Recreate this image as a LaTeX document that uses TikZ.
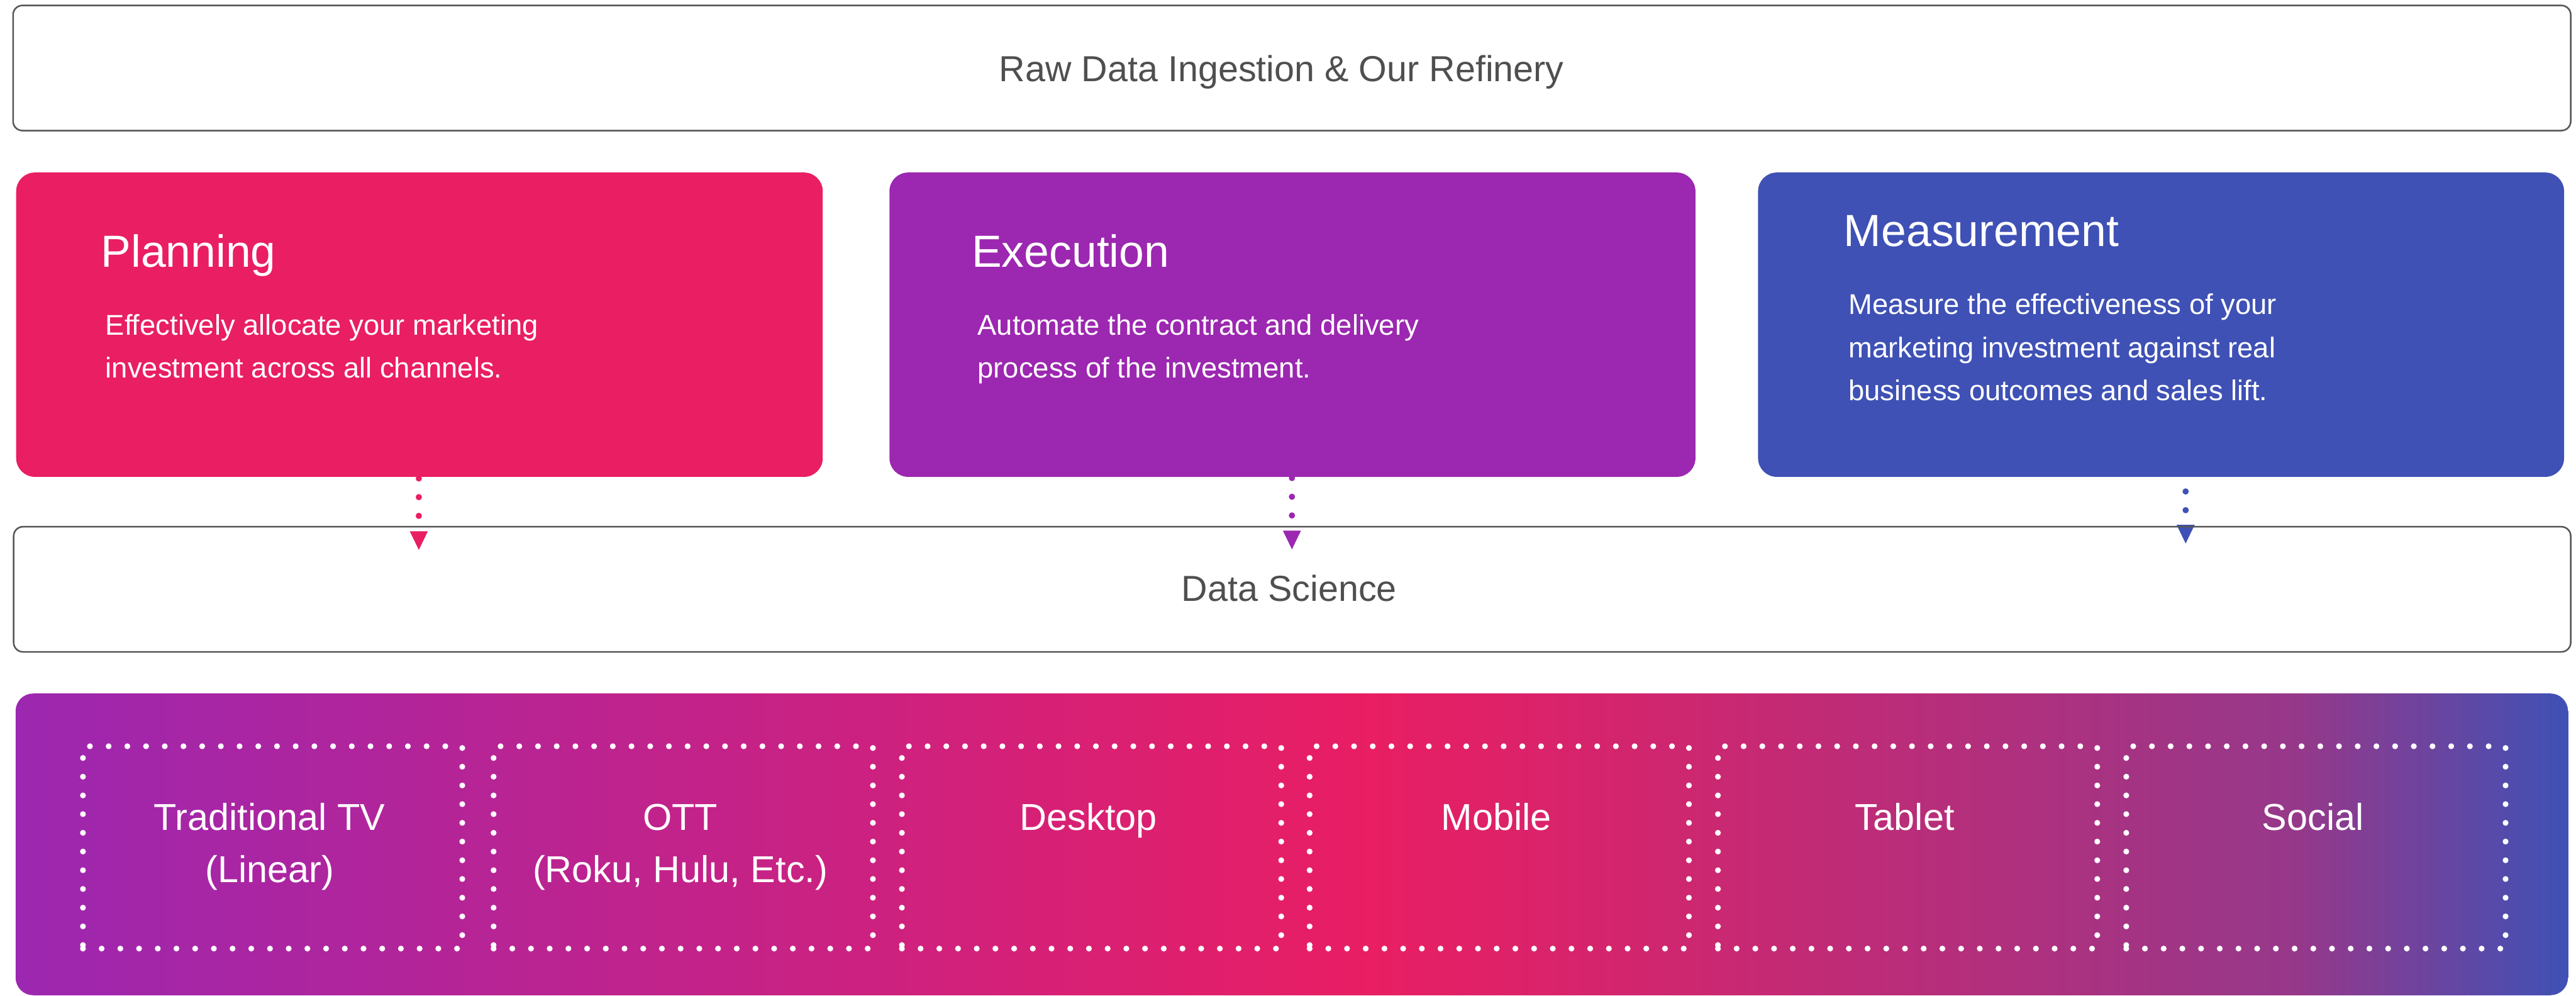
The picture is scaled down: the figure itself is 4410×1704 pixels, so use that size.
\documentclass[tikz,border=0pt]{standalone}
\usepackage{fontspec}
\setmainfont{Liberation Sans}
\usetikzlibrary{arrows.meta}
\definecolor{pinkc}{HTML}{E91E63}
\definecolor{purplec}{HTML}{9C27B0}
\definecolor{bluec}{HTML}{3F51B5}
\definecolor{midc}{HTML}{96388A}
\definecolor{linegray}{HTML}{555555}
\definecolor{textgray}{HTML}{4F4F4F}
\pgfdeclarehorizontalshading{chanshade}{100bp}{color(0bp)=(purplec); color(25bp)=(purplec); color(51.6bp)=(pinkc); color(69.7bp)=(midc); color(75bp)=(bluec); color(100bp)=(bluec)}
\newcommand\chanlines[2]{\vtop{\hbox to 6cm{\hfil #1\hfil}\hbox to 6cm{\hfil #2\hfil}}}
\newcommand\bodylines[1]{\vtop{#1}}
\tikzset{
 wbox/.style={draw=linegray, line width=0.027cm, rounded corners=0.16cm, inner sep=0, anchor=north west},
 cbox/.style={rounded corners=0.32cm, inner sep=0, anchor=north west, draw=none},
 dbox/.style={draw=white, line width=0.10cm, line cap=round, dash pattern=on 0pt off 0.32cm, inner sep=0, anchor=north west, minimum width=6.49cm, minimum height=3.46cm},
 graytext/.style={text=textgray, font=\fontsize{17.6pt}{21pt}\selectfont, inner sep=0, anchor=base},
 titletext/.style={text=white, font=\fontsize{21.9pt}{26pt}\selectfont, inner sep=0, anchor=base west},
 bodytext/.style={text=white, font=\fontsize{13.9pt}{21.06pt}\selectfont, inner sep=0, anchor=base west},
 chantext/.style={text=white, font=\fontsize{18.2pt}{25.32pt}\selectfont, inner sep=0, anchor=base},
 dotconn/.style={draw=#1, line width=0.107cm, line cap=round, dash pattern=on 0pt off 0.32cm,
   -{Triangle[width=0.31cm, length=0.32cm, line width=0pt, fill=#1]}},
}
\begin{document}
\begin{tikzpicture}[x=0.01cm, y=-0.01cm]
\useasboundingbox (0,0) rectangle (4410,1704);
% top box
\node[wbox, minimum width=43.76cm, minimum height=2.14cm] (raw) at (21,8) {};
\node[graytext] (rawlbl) at (2194,139) {Raw Data Ingestion \& Our Refinery};
% coloured boxes
\node[cbox, fill=pinkc, minimum width=13.80cm, minimum height=5.205cm] (plan) at (27,294.5) {};
\node[cbox, fill=purplec, minimum width=13.79cm, minimum height=5.205cm] (exec) at (1522,294.5) {};
\node[cbox, fill=bluec, minimum width=13.79cm, minimum height=5.205cm] (meas) at (3009,294.5) {};
\node[titletext] (plantitle) at (172,457) {Planning};
\node[bodytext] (planbody) at (180,573) {\bodylines{\hbox{Effectively allocate your marketing}\hbox{investment across all channels.}}};
\node[titletext] (exectitle) at (1663,457) {Execution};
\node[bodytext] (execbody) at (1673,573) {\bodylines{\hbox{Automate the contract and delivery}\hbox{process of the investment.}}};
\node[titletext] (meastitle) at (3156,422) {Measurement};
\node[bodytext] (measbody) at (3164,537.5) {\bodylines{\hbox{Measure the effectiveness of your}\hbox{marketing investment against real}\hbox{business outcomes and sales lift.}}};
% connectors
\coordinate (pa1) at (717,818.7);
\coordinate (pa2) at (717,941);
\coordinate (ea1) at (2211.7,818);
\coordinate (ea2) at (2211.7,940);
\coordinate (ma1) at (3741.7,841);
\coordinate (ma2) at (3741.7,930);
\draw[dotconn=pinkc] (pa1) -- (pa2);
\draw[dotconn=purplec] (ea1) -- (ea2);
\draw[dotconn=bluec] (ma1) -- (ma2);
% data science
\node[wbox, minimum width=43.75cm, minimum height=2.14cm] (ds) at (22,900) {};
\node[graytext] (dslbl) at (2207,1029) {Data Science};
% channels
\node[cbox, shade, shading=chanshade, rounded corners=0.30cm, minimum width=43.67cm, minimum height=5.16cm] (chan) at (26,1186) {};
\node[dbox] (tvbox) at (137,1272) {};
\node[dbox] (ottbox) at (840,1272) {};
\node[dbox] (deskbox) at (1539,1272) {};
\node[dbox] (mobbox) at (2237,1272) {};
\node[dbox] (tabbox) at (2936,1272) {};
\node[dbox] (socbox) at (3635,1272) {};
\node[chantext] (tvlbl) at (461.5,1421) {\chanlines{Traditional TV}{(Linear)}};
\node[chantext] (ottlbl) at (1164.5,1421) {\chanlines{OTT}{(Roku, Hulu, Etc.)}};
\node[chantext] (desklbl) at (1863.5,1421) {Desktop};
\node[chantext] (moblbl) at (2561.5,1421) {Mobile};
\node[chantext] (tablbl) at (3260.5,1421) {Tablet};
\node[chantext] (soclbl) at (3959.5,1421) {Social};
\end{tikzpicture}
\end{document}
